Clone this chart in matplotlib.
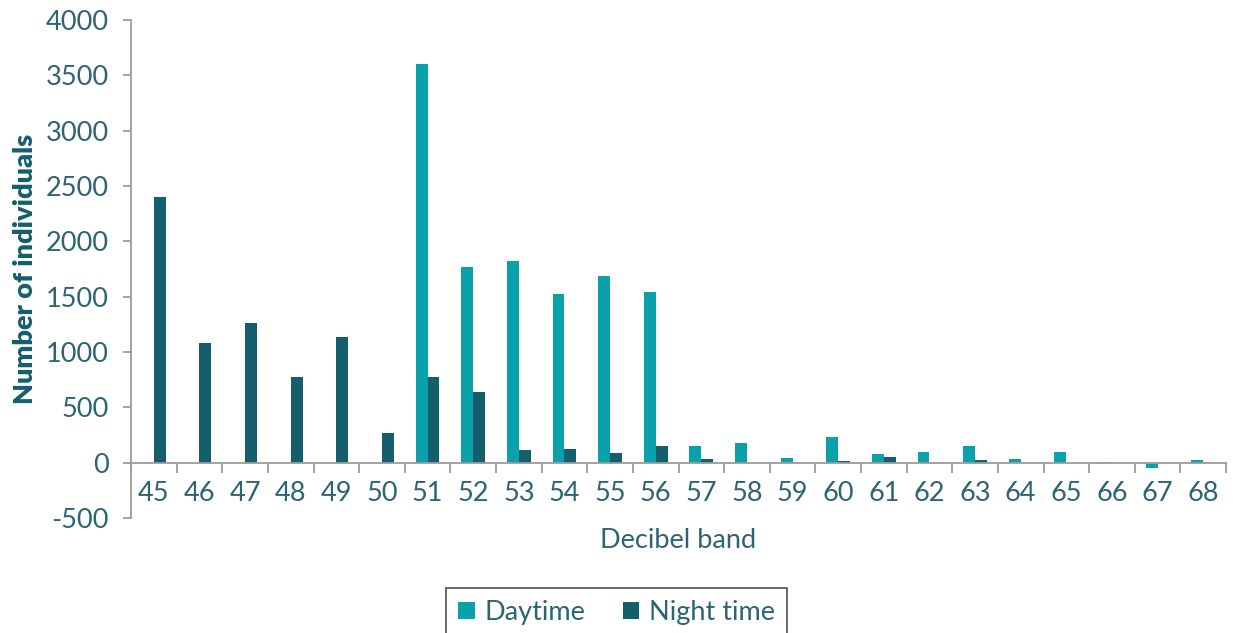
import matplotlib
matplotlib.use("Agg")
import matplotlib.pyplot as plt
import numpy as np

# Decibel bands and head counts per band
bands = [45, 46, 47, 48, 49, 50, 51, 52, 53, 54, 55, 56,
         57, 58, 59, 60, 61, 62, 63, 64, 65, 66, 67, 68]
daytime = [0, 0, 0, 0, 0, 0, 3600, 1770, 1820, 1520, 1690, 1540,
           150, 180, 40, 230, 80, 100, 150, 30, 100, 10, -50, 25]
night_time = [2400, 1080, 1260, 770, 1140, 270, 770, 640, 110, 120, 90, 150,
              35, 0, 0, 15, 50, 0, 20, 0, 0, 0, 0, 0]
y_ticks = [-500, 0, 500, 1000, 1500, 2000, 2500, 3000, 3500, 4000]

DAY_COLOR = "#0aa1ab"
NIGHT_COLOR = "#155e6e"
TEXT_COLOR = "#2b6473"
AXIS_COLOR = "#9c9c9c"
FS = 19.5

plt.rcParams["font.family"] = ["Lato", "DejaVu Sans"]

fig = plt.figure(figsize=(12.33, 6.33), dpi=100)
ax = fig.add_axes([131 / 1233, 1 - 518 / 633, (1226 - 131) / 1233, (518 - 20) / 633])

x = np.array(bands, dtype=float)
w = 0.26
ax.bar(x - w / 2, daytime, width=w, color=DAY_COLOR, label="Daytime", zorder=2)
ax.bar(x + w / 2, night_time, width=w, color=NIGHT_COLOR, label="Night time", zorder=2)

ax.set_xlim(bands[0] - 0.5, bands[-1] + 0.5)
ax.set_ylim(-500, 4000)
ax.set_yticks(y_ticks)
ax.set_yticklabels([str(v) for v in y_ticks])

# Category labels sit under the zero line; tick marks fall between bands
ax.set_xticks(x)
ax.set_xticklabels([str(b) for b in bands])
ax.set_xticks(np.arange(bands[0] - 0.5, bands[-1] + 1.0, 1.0), minor=True)
ax.tick_params(axis="x", which="major", length=0, pad=13, labelsize=FS,
               labelcolor=TEXT_COLOR)
ax.tick_params(axis="x", which="minor", length=7, width=1.3, color=AXIS_COLOR,
               direction="out")
ax.tick_params(axis="y", length=6, width=1.3, color=AXIS_COLOR, pad=10,
               labelsize=FS, labelcolor=TEXT_COLOR)

for side in ("top", "right"):
    ax.spines[side].set_visible(False)
ax.spines["bottom"].set_position(("data", 0))
ax.spines["bottom"].set_color(AXIS_COLOR)
ax.spines["bottom"].set_linewidth(1.3)
ax.spines["left"].set_color(AXIS_COLOR)
ax.spines["left"].set_linewidth(1.3)
ax.spines["bottom"].set_zorder(3)

ax.set_ylabel("Number of individuals", fontsize=19.5, fontweight="heavy",
              color=NIGHT_COLOR, labelpad=6)
fig.text((131 + 1226) / 2 / 1233, 1 - 540 / 633, "Decibel band", ha="center",
         va="center", fontsize=FS, color=TEXT_COLOR)

leg = fig.legend(loc="upper center", bbox_to_anchor=(0.5, 1 - 588 / 633), ncol=2,
                 frameon=True, fancybox=False, fontsize=FS, handlelength=0.6,
                 handleheight=0.6, handletextpad=0.35, columnspacing=1.4,
                 borderpad=0.45, borderaxespad=0)
leg.get_frame().set_edgecolor("#333333")
leg.get_frame().set_linewidth(1.3)
for t in leg.get_texts():
    t.set_color(TEXT_COLOR)

fig.savefig("out.png", dpi=100)
